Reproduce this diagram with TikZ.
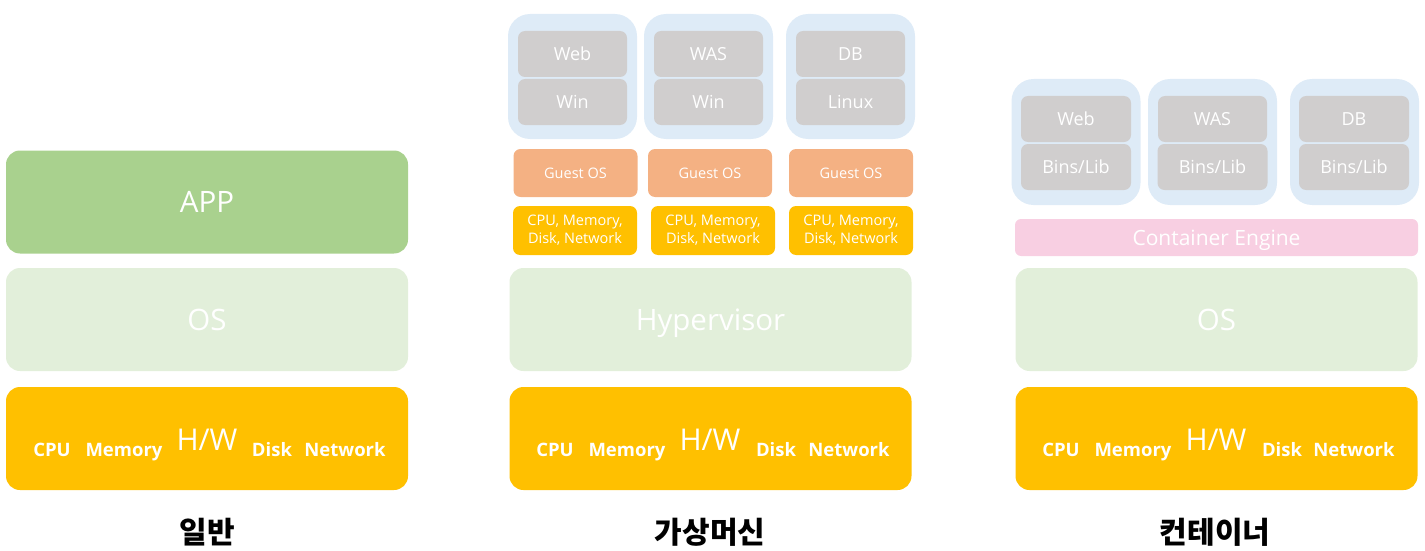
\documentclass[tikz,border=0pt]{standalone}
\usepackage{fontspec}
\setmainfont{Open Sans}
\newfontfamily\kr{Noto Sans CJK KR}
\definecolor{appg}{HTML}{A9D18E}
\definecolor{osg}{HTML}{E2EFDA}
\definecolor{hwy}{HTML}{FFC000}
\definecolor{vmb}{HTML}{DEEBF7}
\definecolor{gry}{HTML}{D0CECE}
\definecolor{gos}{HTML}{F4B183}
\definecolor{pnk}{HTML}{F8CFE2}
\begin{document}
\begin{tikzpicture}[x=1pt,y=-1pt,
  blk/.style={rectangle,rounded corners=14pt,inner sep=0pt,text=white,draw=none},
  big/.style={blk,minimum width=402pt,minimum height=103pt,text depth=0pt,font=\fontsize{29.5}{34}\selectfont},
  hwlbl/.style={anchor=base,text=white,inner sep=0pt,font=\fontsize{18.5}{22}\selectfont\bfseries},
  hwbig/.style={anchor=base,text=white,inner sep=0pt,font=\fontsize{30}{34}\selectfont},
  vm/.style={blk,fill=vmb,rounded corners=22pt,minimum width=129pt,minimum height=125pt},
  inner/.style={blk,fill=gry,rounded corners=7pt,minimum width=109pt,minimum height=46pt,text depth=0pt,font=\fontsize{18}{22}\selectfont},
  gst/.style={blk,fill=gos,rounded corners=7pt,minimum width=124pt,minimum height=48pt,text depth=0pt,font=\fontsize{14.5}{18}\selectfont},
  res/.style={blk,fill=hwy,rounded corners=7pt,minimum width=124pt,minimum height=49pt,align=center,font=\fontsize{14.5}{18}\selectfont},
  title/.style={inner sep=0pt,font=\kr\bfseries\fontsize{30}{36}\selectfont}]
\useasboundingbox (0,0) rectangle (1425,551);
% ---- general ----
\node[big,fill=appg] (app) at (207,202) {APP};
\node[big,fill=osg] (os1) at (207,319.5) {OS};
\node[big,fill=hwy] (hw1) at (207,438.5) {};
\node[hwlbl] (cpu1) at (52,456) {CPU};
\node[hwlbl] (mem1) at (124,456) {Memory};
\node[hwbig] (hwt1) at (207,450) {H/W};
\node[hwlbl] (disk1) at (272,456) {Disk};
\node[hwlbl] (net1) at (345,456) {Network};
\node[title] (t1) at (207,532) {일반};
% ---- virtual machine ----
\node[vm] (vm1) at (572.5,76.5) {};
\node[vm] (vm2) at (708.5,76.5) {};
\node[vm] (vm3) at (850.5,76.5) {};
\node[inner] (web1) at (572.5,54) {Web};
\node[inner] (win1) at (572.5,102) {Win};
\node[inner] (was1) at (708.5,54) {WAS};
\node[inner] (win2) at (708.5,102) {Win};
\node[inner] (db1) at (850.5,54) {DB};
\node[inner] (lnx) at (850.5,102) {Linux};
\node[gst] (g1) at (575.5,173) {Guest OS};
\node[gst] (g2) at (710,173) {Guest OS};
\node[gst] (g3) at (851,173) {Guest OS};
\node[res] (r1) at (575,230.5) {CPU, Memory,\\Disk, Network};
\node[res] (r2) at (713,230.5) {CPU, Memory,\\Disk, Network};
\node[res] (r3) at (851,230.5) {CPU, Memory,\\Disk, Network};
\node[big,fill=osg] (hyp) at (710.5,319.5) {Hypervisor};
\node[big,fill=hwy] (hw2) at (710.5,438.5) {};
\node[hwlbl] (cpu2) at (555,456) {CPU};
\node[hwlbl] (mem2) at (627,456) {Memory};
\node[hwbig] (hwt2) at (710,450) {H/W};
\node[hwlbl] (disk2) at (776,456) {Disk};
\node[hwlbl] (net2) at (849,456) {Network};
\node[title] (t2) at (710,532) {가상머신};
% ---- container ----
\node[vm,minimum height=126pt] (c1) at (1076,142) {};
\node[vm,minimum height=126pt] (c2) at (1212.5,142) {};
\node[vm,minimum height=126pt] (c3) at (1354.5,142) {};
\node[inner,minimum width=110pt] (web2) at (1076,119) {Web};
\node[inner,minimum width=110pt] (bl1) at (1076,167) {Bins/Lib};
\node[inner] (was2) at (1212.5,119) {WAS};
\node[inner,minimum width=110pt] (bl2) at (1212.5,167) {Bins/Lib};
\node[inner,minimum width=110pt] (db2) at (1354,119) {DB};
\node[inner,minimum width=110pt] (bl3) at (1354,167) {Bins/Lib};
\node[blk,fill=pnk,rounded corners=6pt,minimum width=403pt,minimum height=37pt,text depth=0pt,font=\fontsize{21}{25}\selectfont] (ce) at (1216.5,237.5) {Container Engine};
\node[big,fill=osg] (os3) at (1216.5,319.5) {OS};
\node[big,fill=hwy] (hw3) at (1216.5,438.5) {};
\node[hwlbl] (cpu3) at (1061,456) {CPU};
\node[hwlbl] (mem3) at (1133,456) {Memory};
\node[hwbig] (hwt3) at (1216,450) {H/W};
\node[hwlbl] (disk3) at (1282,456) {Disk};
\node[hwlbl] (net3) at (1354,456) {Network};
\node[title] (t3) at (1215,532) {컨테이너};
\end{tikzpicture}
\end{document}
